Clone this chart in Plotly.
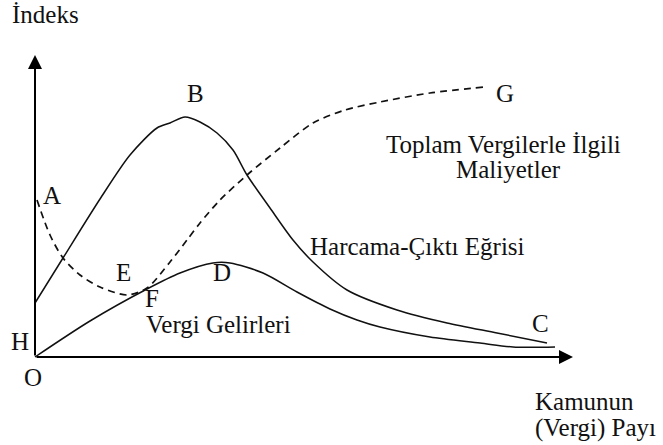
import plotly.graph_objects as go

# Curve data (origin at O)
harcama_x = [0, 28, 65, 95, 122, 135, 150, 165, 182, 198, 212, 235, 258, 278, 312, 362, 412, 462, 512]
harcama_y = [54, 99, 158, 202, 229, 234, 240, 235, 224, 207, 182, 149, 117, 95, 67, 47, 34, 24, 14]

vergi_x = [0, 55, 112, 145, 178, 195, 228, 262, 295, 322, 345, 395, 445, 478, 520]
vergi_y = [0, 36, 68, 84, 94, 94, 84, 65, 48, 37, 30, 20, 14, 10, 10]

maliyet_x = [2, 15, 28, 45, 65, 92, 112, 135, 152, 165, 185, 212, 245, 278, 310, 345, 395, 450]
maliyet_y = [157, 122, 99, 82, 70, 62, 69, 95, 117, 134, 157, 182, 209, 234, 247, 255, 264, 270]

# Text labels
label_text = ["İndeks", "B", "G", "Toplam Vergilerle İlgili", "Maliyetler",
              "Harcama-Çıktı Eğrisi", "A", "E", "F", "D", "Vergi Gelirleri",
              "H", "O", "C"]
label_x = [10, 160, 470, 468, 473, 382, 17, 88, 117, 187, 183, -15, -2, 505]
label_y = [343, 264, 264, 213, 188, 111, 162, 85, 59, 85, 33, 16, -20, 34]

axis_label_lines = ["Kamunun", "(Vergi) Payı"]
axis_label_x = [498, 498]
axis_label_y = [-44, -71]

FONT = "'Times New Roman', 'Liberation Serif', 'DejaVu Serif', serif"
INK = "#111111"
FSIZE = 25

fig = go.Figure()
fig.add_trace(go.Scatter(x=harcama_x, y=harcama_y, mode="lines",
                         line=dict(color=INK, width=1.5, shape="spline", smoothing=0.8),
                         hoverinfo="skip", showlegend=False))
fig.add_trace(go.Scatter(x=vergi_x, y=vergi_y, mode="lines",
                         line=dict(color=INK, width=1.5, shape="spline", smoothing=0.8),
                         hoverinfo="skip", showlegend=False))
fig.add_trace(go.Scatter(x=maliyet_x, y=maliyet_y, mode="lines",
                         line=dict(color=INK, width=1.7, dash="7px,5px", shape="spline", smoothing=0.8),
                         hoverinfo="skip", showlegend=False))

annotations = []
# axes with arrows
annotations.append(dict(x=0, y=302, ax=0, ay=0, xref="x", yref="y", axref="x", ayref="y",
                        showarrow=True, arrowhead=2, arrowsize=1.4, arrowwidth=2,
                        arrowcolor="black", text=""))
annotations.append(dict(x=538, y=0, ax=0, ay=0, xref="x", yref="y", axref="x", ayref="y",
                        showarrow=True, arrowhead=2, arrowsize=1.4, arrowwidth=2,
                        arrowcolor="black", text=""))

for t, x, y in zip(label_text, label_x, label_y):
    annotations.append(dict(x=x, y=y, text=t, showarrow=False, xanchor="center",
                            yanchor="middle", font=dict(family=FONT, size=FSIZE, color=INK)))
for t, x, y in zip(axis_label_lines, axis_label_x, axis_label_y):
    annotations.append(dict(x=x, y=y, text=t, showarrow=False, xanchor="left",
                            yanchor="middle", font=dict(family=FONT, size=FSIZE, color=INK)))

fig.update_layout(
    width=663, height=445,
    margin=dict(l=0, r=0, t=0, b=0),
    paper_bgcolor="white", plot_bgcolor="white",
    font=dict(family=FONT),
    xaxis=dict(range=[-35, 628], visible=False, fixedrange=True),
    yaxis=dict(range=[-88, 357], visible=False, fixedrange=True),
    annotations=annotations,
    showlegend=False,
)

fig.write_html("out.html",
               config={"displayModeBar": False, "staticPlot": True},
               post_script="document.body.style.margin='0';document.body.style.overflow='hidden';")
